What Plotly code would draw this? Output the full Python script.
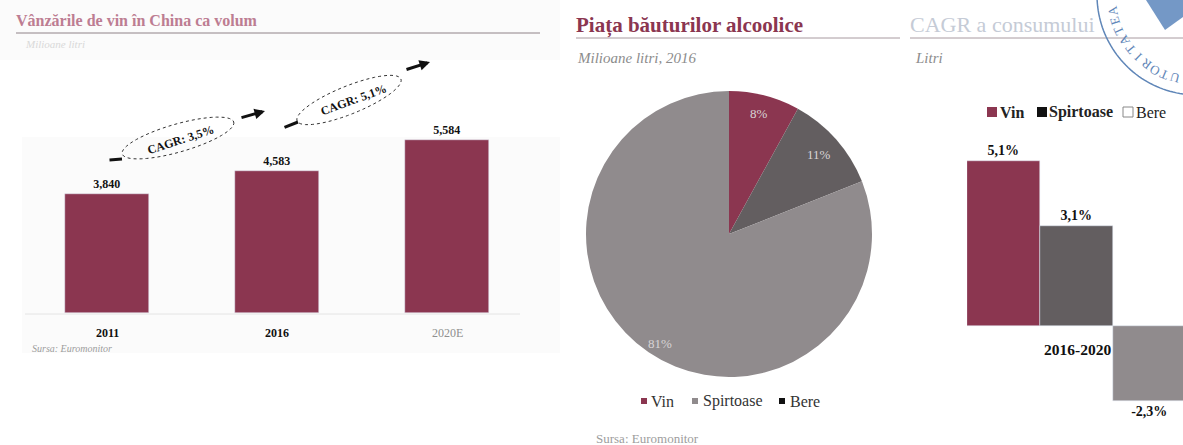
import numpy as np
import plotly.graph_objects as go

W, H = 1183, 445

years = ["2011", "2016", "2020E"]
volumes = [3840, 4583, 5584]
volume_labels = ["3,840", "4,583", "5,584"]

pie_labels = ["Vin", "Bere", "Spirtoase"]
pie_values = [8, 11, 81]
pie_text = ["8%", "11%", "81%"]

cagr_period = ["2016-2020"]
cagr_vin = [5.1]
cagr_spirtoase = [3.1]
cagr_bere = [-2.3]

RED = "#8b3650"
DARK = "#635e60"
GREY = "#908b8d"
BLACK = "#111111"
FONT = "Liberation Serif"


def px(x):
    return x / W


def py(y):
    return 1 - y / H


fig = go.Figure()

# Left: bars
fig.add_trace(go.Bar(
    x=years, y=volumes, text=[f"<b>{t}</b>" for t in volume_labels], textposition="outside",
    textfont=dict(family=FONT, size=12, color=BLACK),
    marker=dict(color=RED), width=0.49, showlegend=False, cliponaxis=False,
    xaxis="x", yaxis="y",
))

# Middle: pie
fig.add_trace(go.Pie(
    labels=pie_labels, values=pie_values, textinfo="none",
    marker=dict(colors=[RED, DARK, GREY], line=dict(width=0)),
    sort=False, direction="clockwise", rotation=0, showlegend=False,
    domain=dict(x=[px(586), px(872)], y=[py(377), py(91)]),
))

# Right: grouped bars
for name, vals, col in [("Vin", cagr_vin, RED), ("Spirtoase", cagr_spirtoase, DARK), ("Bere", cagr_bere, GREY)]:
    fig.add_trace(go.Bar(
        x=cagr_period, y=vals, name=name, marker=dict(color=col),
        text=["<b>" + f"{v:.1f}%".replace(".", ",") + "</b>" for v in vals], textposition="outside",
        textfont=dict(family=FONT, size=14, color=BLACK),
        showlegend=False, xaxis="x2", yaxis="y2", cliponaxis=False,
    ))

shapes = []
annotations = []


def text(x, y, s, size=10, color=BLACK, bold=False, italic=False, angle=0, anchor="left", fam=FONT):
    if bold:
        s = f"<b>{s}</b>"
    if italic:
        s = f"<i>{s}</i>"
    annotations.append(dict(
        x=px(x), y=py(y), xref="paper", yref="paper", text=s, showarrow=False,
        xanchor=anchor, yanchor="middle", textangle=angle,
        font=dict(family=fam, size=size, color=color),
    ))


def line(x0, y0, x1, y1, color, width=1, dash="solid"):
    shapes.append(dict(type="line", xref="paper", yref="paper", x0=px(x0), y0=py(y0), x1=px(x1), y1=py(y1),
                       line=dict(color=color, width=width, dash=dash)))


def ellipse(cx, cy, rx, ry, deg, color="#333333", width=1, dash="dot"):
    t = np.linspace(0, 2 * np.pi, 60)
    r = np.radians(deg)
    xs = cx + rx * np.cos(t) * np.cos(r) - ry * np.sin(t) * np.sin(r)
    ys = cy + rx * np.cos(t) * np.sin(r) + ry * np.sin(t) * np.cos(r)
    d = "M " + " L ".join(f"{px(a):.5f},{py(b):.5f}" for a, b in zip(xs, ys)) + " Z"
    shapes.append(dict(type="path", xref="paper", yref="paper", path=d, line=dict(color=color, width=width, dash=dash)))


def arrow(x0, y0, x1, y1, head=2):
    annotations.append(dict(
        x=px(x1), y=py(y1), ax=x0 - x1, ay=y0 - y1, xref="paper", yref="paper", axref="pixel", ayref="pixel",
        text="", showarrow=True, arrowhead=head, arrowsize=0.7, arrowwidth=3, arrowcolor=BLACK,
    ))


def arc(cx, cy, r, a0, a1, color, width):
    t = np.radians(np.linspace(a0, a1, 50))
    xs, ys = cx + r * np.cos(t), cy + r * np.sin(t)
    d = "M " + " L ".join(f"{px(a):.5f},{py(b):.5f}" for a, b in zip(xs, ys))
    shapes.append(dict(type="path", xref="paper", yref="paper", path=d, line=dict(color=color, width=width)))


# faint panel backdrops on the left chart
for x0, y0, x1, y1 in [(0, 0, 560, 60), (22, 137, 560, 353)]:
    shapes.append(dict(type="rect", xref="paper", yref="paper", x0=px(x0), x1=px(x1), y0=py(y1), y1=py(y0),
                       fillcolor="#fbfbfb", line=dict(width=0), layer="below"))

# Headers
text(14, 21, "Vânzările de vin în China ca volum", size=16, color="#bd7d92", bold=True)
line(16, 33, 540, 33, "#8f8288", 1)
text(23, 44, "Milioane litri", size=11, color="#d9d9d9", italic=True)
text(574, 25, "Piața băuturilor alcoolice", size=21, color=RED, bold=True)
line(576, 38, 900, 38, "#a89aa0", 1)
text(575, 58, "Milioane litri, 2016", size=15, color="#8c8c8c", italic=True)
text(908, 24, "CAGR a consumului", size=22, color="#c5cbd6")
line(910, 38, 1183, 38, "#a89aa0", 1)
text(913, 58, "Litri", size=15, color="#8c8c8c", italic=True)

# Left chart CAGR decorations
ellipse(178, 138, 58, 14, -16)
text(180, 140, "CAGR: 3,5%", size=12, bold=True, angle=-18, anchor="center")
arrow(108, 160, 122, 159, head=0)
arrow(240, 118, 265, 111)
arrow(283, 128, 298, 122, head=0)
ellipse(349, 100, 56, 14, -22)
text(353, 100, "CAGR: 5,1%", size=12, bold=True, angle=-20, anchor="center")
arrow(405, 70, 430, 62)

# Left axis and labels
line(25, 314, 520, 314, "#e4e4e4", 1)
for i, yr in enumerate(years):
    estimate = yr.endswith("E")
    annotations.append(dict(
        x=i, xref="x", y=py(333), yref="paper", showarrow=False, xanchor="center", yanchor="middle",
        text=yr if estimate else f"<b>{yr}</b>",
        font=dict(family=FONT, size=12, color="#8f8f8f" if estimate else BLACK),
    ))
text(30, 348, "Sursa: Euromonitor", size=10, color="#9d9d9d", italic=True)

# Pie labels and legend
for (tx, ty), t in zip([(759, 114), (819, 155), (660, 343)], pie_text):
    text(tx, ty, t, size=13, color="#d8d4d5", anchor="center")
for lx, col, lab, tx in [(644, RED, "Vin", 649), (695, GREY, "Spirtoase", 701), (782, BLACK, "Bere", 788)]:
    shapes.append(dict(type="rect", xref="paper", yref="paper", x0=px(lx - 3), x1=px(lx + 3), y0=py(404), y1=py(398),
                       fillcolor=col, line=dict(width=0)))
    text(tx, 401, lab, size=16, color="#333333")
text(594, 438, "Sursa: Euromonitor", size=13, color="#9d9d9d")

# Right legend
for lx, col, lab, tx in [(992, RED, "Vin", 998), (1042, BLACK, "Spirtoase", 1047), (1128, "#ffffff", "Bere", 1134)]:
    shapes.append(dict(type="rect", xref="paper", yref="paper", x0=px(lx - 5), x1=px(lx + 5), y0=py(117), y1=py(107),
                       fillcolor=col, line=dict(width=1 if col == "#ffffff" else 0, color="#888888")))
    text(tx, 112, lab, size=16, color="#222222", bold=lab != "Bere")
text(1077, 349, cagr_period[0], size=15.5, bold=True, anchor="center")

# Stamp
BLUE = "#5f86b8"
arc(1197, -5, 100, 88, 185, BLUE, 1.5)
shapes.append(dict(type="path", xref="paper", yref="paper",
                   path=f"M {px(1146)},{py(0)} L {px(1165)},{py(30)} L {px(1183)},{py(17)} L {px(1183)},{py(0)} Z",
                   fillcolor="#7498c6", line=dict(width=0)))
for i, ch in enumerate("UTORITATEA"):
    phi = 105 + 7.2 * i
    r = np.radians(phi)
    ang = phi + 90
    text(1197 + 86 * np.cos(r), -5 + 86 * np.sin(r), ch, size=13, color=BLUE, angle=ang - 360 if ang > 180 else ang, anchor="center")

fig.update_layout(
    width=W, height=H, margin=dict(l=0, r=0, t=0, b=0), autosize=False,
    paper_bgcolor="white", plot_bgcolor="rgba(0,0,0,0)",
    barmode="group", bargap=0, bargroupgap=0,
    shapes=shapes, annotations=annotations,
    xaxis=dict(domain=[px(22), px(532)], showticklabels=False, showgrid=False, zeroline=False, showline=False, ticks="",
               range=[-0.5, 2.5], anchor="y", type="category"),
    yaxis=dict(domain=[py(313), py(60)], range=[0, 8160], showticklabels=False, showgrid=False, zeroline=False, ticks="", anchor="x"),
    xaxis2=dict(domain=[px(967), 1.0], showticklabels=False, showgrid=False, zeroline=False, showline=False, ticks="",
                range=[-0.5, 0.486], anchor="y2", type="category"),
    yaxis2=dict(domain=[py(432), py(130)], range=[-3.27, 6.05], showticklabels=False, showgrid=False, zeroline=False, ticks="", anchor="x2"),
)

fig.write_html("out.html", config={"displayModeBar": False},
               post_script="document.body.style.margin='0';document.body.style.overflow='hidden';")
